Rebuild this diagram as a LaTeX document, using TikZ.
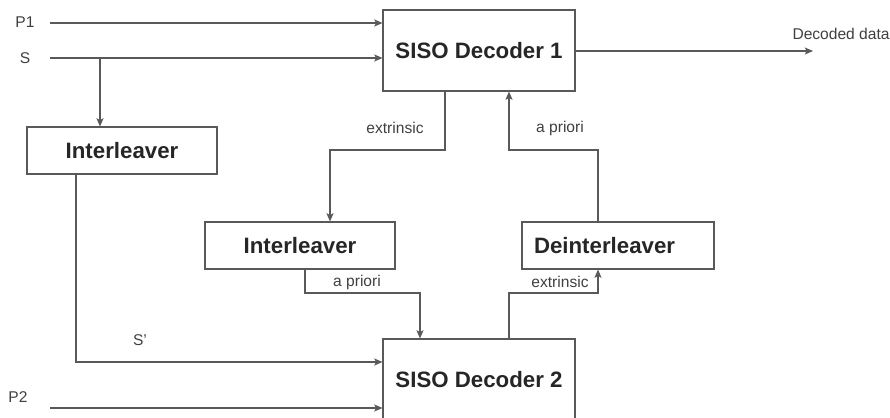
\documentclass[tikz,border=0pt]{standalone}
\usepackage{fontspec}
\setmainfont{Liberation Sans}
\usetikzlibrary{arrows.meta}
\begin{document}
\begin{tikzpicture}[x=.03cm,y=-.03cm,line width=.9pt,
            blk/.style={draw=black!65,fill=white,font=\fontsize{19}{21}\selectfont\bfseries,text=black!85,
                minimum width=5.7cm,minimum height=1.41cm,inner sep=0pt},
            dec/.style={blk,minimum width=5.76cm,minimum height=2.43cm},
            lbl/.style={font=\fontsize{13.3}{15}\selectfont,text=black!75,inner sep=0pt}]
            \useasboundingbox (0,0) rectangle (890,418);
            % blokken
            \node[dec] (dec1) at (479,50.5) {SISO Decoder 1};
            \node[dec] (dec2) at (479,379.5) {SISO Decoder 2};
            \node[blk] (intl1) at (122,150.5) {Interleaver};
            \node[blk] (intl2) at (300,245.5) {Interleaver};
            \node[blk,minimum width=5.76cm,text width=5.04cm,align=left,inner xsep=.36cm] (deintl) at (618,245.5) {Deinterleaver};
            % hulppunten
            \coordinate (in1) at (50,23);
            \coordinate (ins) at (50,58);
            \coordinate (br) at (100,58);
            \coordinate (sp) at (76,362);
            \coordinate (in2) at (50,408);
            \coordinate (out) at (813,51);
            \coordinate (e1) at (445,150);
            \coordinate (e1b) at (330,150);
            \coordinate (a2) at (305,293);
            \coordinate (a2b) at (420,293);
            \coordinate (e2) at (509,293);
            \coordinate (e2b) at (598,293);
            \coordinate (a1) at (598,150);
            \coordinate (a1b) at (509,150);
            % tekst
            \path
            (25,22) node[lbl] (lp1) {P1}
            (25,58) node[lbl] (ls) {S}
            (140,340) node[lbl] (lsp) {S'}
            (18,397) node[lbl] (lp2) {P2}
            (792,34) node[lbl,anchor=west] (lout) {Decoded data}
            (395,128) node[lbl] (lx1) {extrinsic}
            (560,128) node[lbl] (la1) {a priori}
            (357,282) node[lbl] (la2) {a priori}
            (560,282) node[lbl] (lx2) {extrinsic};
            \begin{scope}[-{Stealth[length=7pt,width=6pt,inset=1.5pt]},draw=black!65]
                \draw (in1)--(in1 -| dec1.west);
                \draw (ins)--(ins -| dec1.west);
                \draw (br)--(br |- intl1.north);
                \draw (intl1.south -| sp)--(sp)--(sp -| dec2.west);
                \draw (in2)--(in2 -| dec2.west);
                \draw (dec1.east |- out)--(out);
                \draw (e1 |- dec1.south)--(e1)--(e1b)--(e1b |- intl2.north);
                \draw (a2 |- intl2.south)--(a2)--(a2b)--(a2b |- dec2.north);
                \draw (e2 |- dec2.north)--(e2)--(e2b)--(e2b |- deintl.south);
                \draw (a1 |- deintl.north)--(a1)--(a1b)--(a1b |- dec1.south);
            \end{scope}
        \end{tikzpicture}
\end{document}
